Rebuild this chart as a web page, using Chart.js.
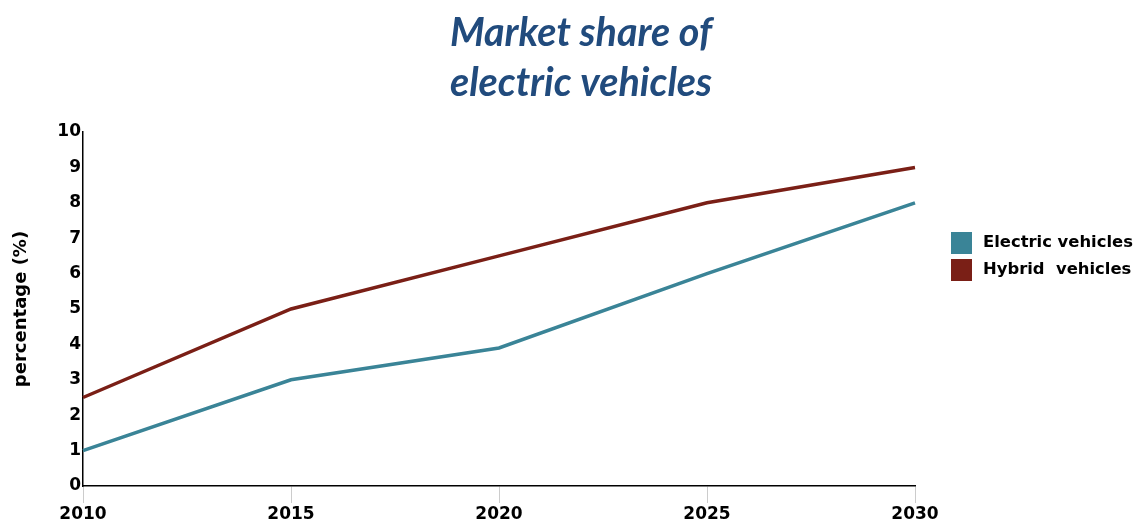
<!DOCTYPE html>
<html>
<head>
<meta charset="utf-8">
<style>
  html, body { margin: 0; padding: 0; background: #ffffff; }
  #wrap { position: relative; width: 1136px; height: 522px; }
</style>
<script src="https://cdn.jsdelivr.net/npm/chart.js@4/dist/chart.umd.min.js"></script>
</head>
<body>
<div id="wrap"><canvas id="chart" width="1136" height="522"></canvas></div>
<script>
// Market share data (percent)
const years = ['2010', '2015', '2020', '2025', '2030'];
const electricShare = [1, 3, 3.9, 6, 8];
const hybridShare = [2.5, 5, 6.5, 8, 9];
const seriesNames = ['Electric vehicles', 'Hybrid  vehicles'];
const seriesColors = ['#3a8497', '#7a1f16'];
const titleLines = ['Market share of', 'electric vehicles'];
const yAxisTitle = 'percentage (%)';

const labelFont = { family: '"DejaVu Sans", Verdana, sans-serif', size: 17, weight: 'bold' };

// Title and legend drawn onto the canvas
const decorations = {
  id: 'decorations',
  afterDraw(chart) {
    const ctx = chart.ctx;
    ctx.save();
    ctx.fillStyle = '#214b7d';
    ctx.font = 'italic bold 39.5px Lato, "Open Sans", sans-serif';
    ctx.textAlign = 'center';
    ctx.textBaseline = 'alphabetic';
    titleLines.forEach((line, i) => ctx.fillText(line, 581, 46 + i * 50));

    ctx.textAlign = 'left';
    ctx.textBaseline = 'middle';
    ctx.font = 'bold 16.4px "DejaVu Sans", Verdana, sans-serif';
    chart.data.datasets.forEach((ds, i) => {
      const y = 232 + i * 27;
      ctx.fillStyle = ds.borderColor;
      ctx.fillRect(951, y, 21, 22);
      ctx.fillStyle = '#000000';
      ctx.fillText(ds.label, 983, y + 11);
    });
    ctx.restore();
  }
};

new Chart(document.getElementById('chart'), {
  type: 'line',
  data: {
    labels: years,
    datasets: [
      { label: seriesNames[0], data: electricShare, borderColor: seriesColors[0], backgroundColor: seriesColors[0] },
      { label: seriesNames[1], data: hybridShare, borderColor: seriesColors[1], backgroundColor: seriesColors[1] }
    ]
  },
  options: {
    responsive: false,
    animation: false,
    layout: { padding: { top: 132, right: 221, bottom: 0, left: 0 } },
    elements: {
      line: { borderWidth: 3.5, tension: 0 },
      point: { radius: 0 }
    },
    plugins: {
      legend: { display: false },
      title: { display: false },
      tooltip: { enabled: false }
    },
    scales: {
      x: {
        offset: false,
        afterFit(scale) { scale.height = 36; },
        grid: { drawOnChartArea: false, drawTicks: true, tickLength: 17, color: '#cccccc' },
        border: { color: '#000000', width: 1.5 },
        ticks: { color: '#000000', font: labelFont, padding: 1, maxRotation: 0 }
      },
      y: {
        min: 0,
        max: 10,
        afterFit(scale) { scale.width = 83; },
        grid: { display: false, drawTicks: false },
        border: { color: '#000000', width: 1.5 },
        ticks: { stepSize: 1, color: '#000000', font: labelFont, padding: 2 },
        title: {
          display: true,
          text: yAxisTitle,
          color: '#000000',
          font: { family: '"DejaVu Sans", Verdana, sans-serif', size: 18, weight: 'bold' },
          padding: { top: 11, bottom: 0 }
        }
      }
    }
  },
  plugins: [decorations]
});
</script>
</body>
</html>
